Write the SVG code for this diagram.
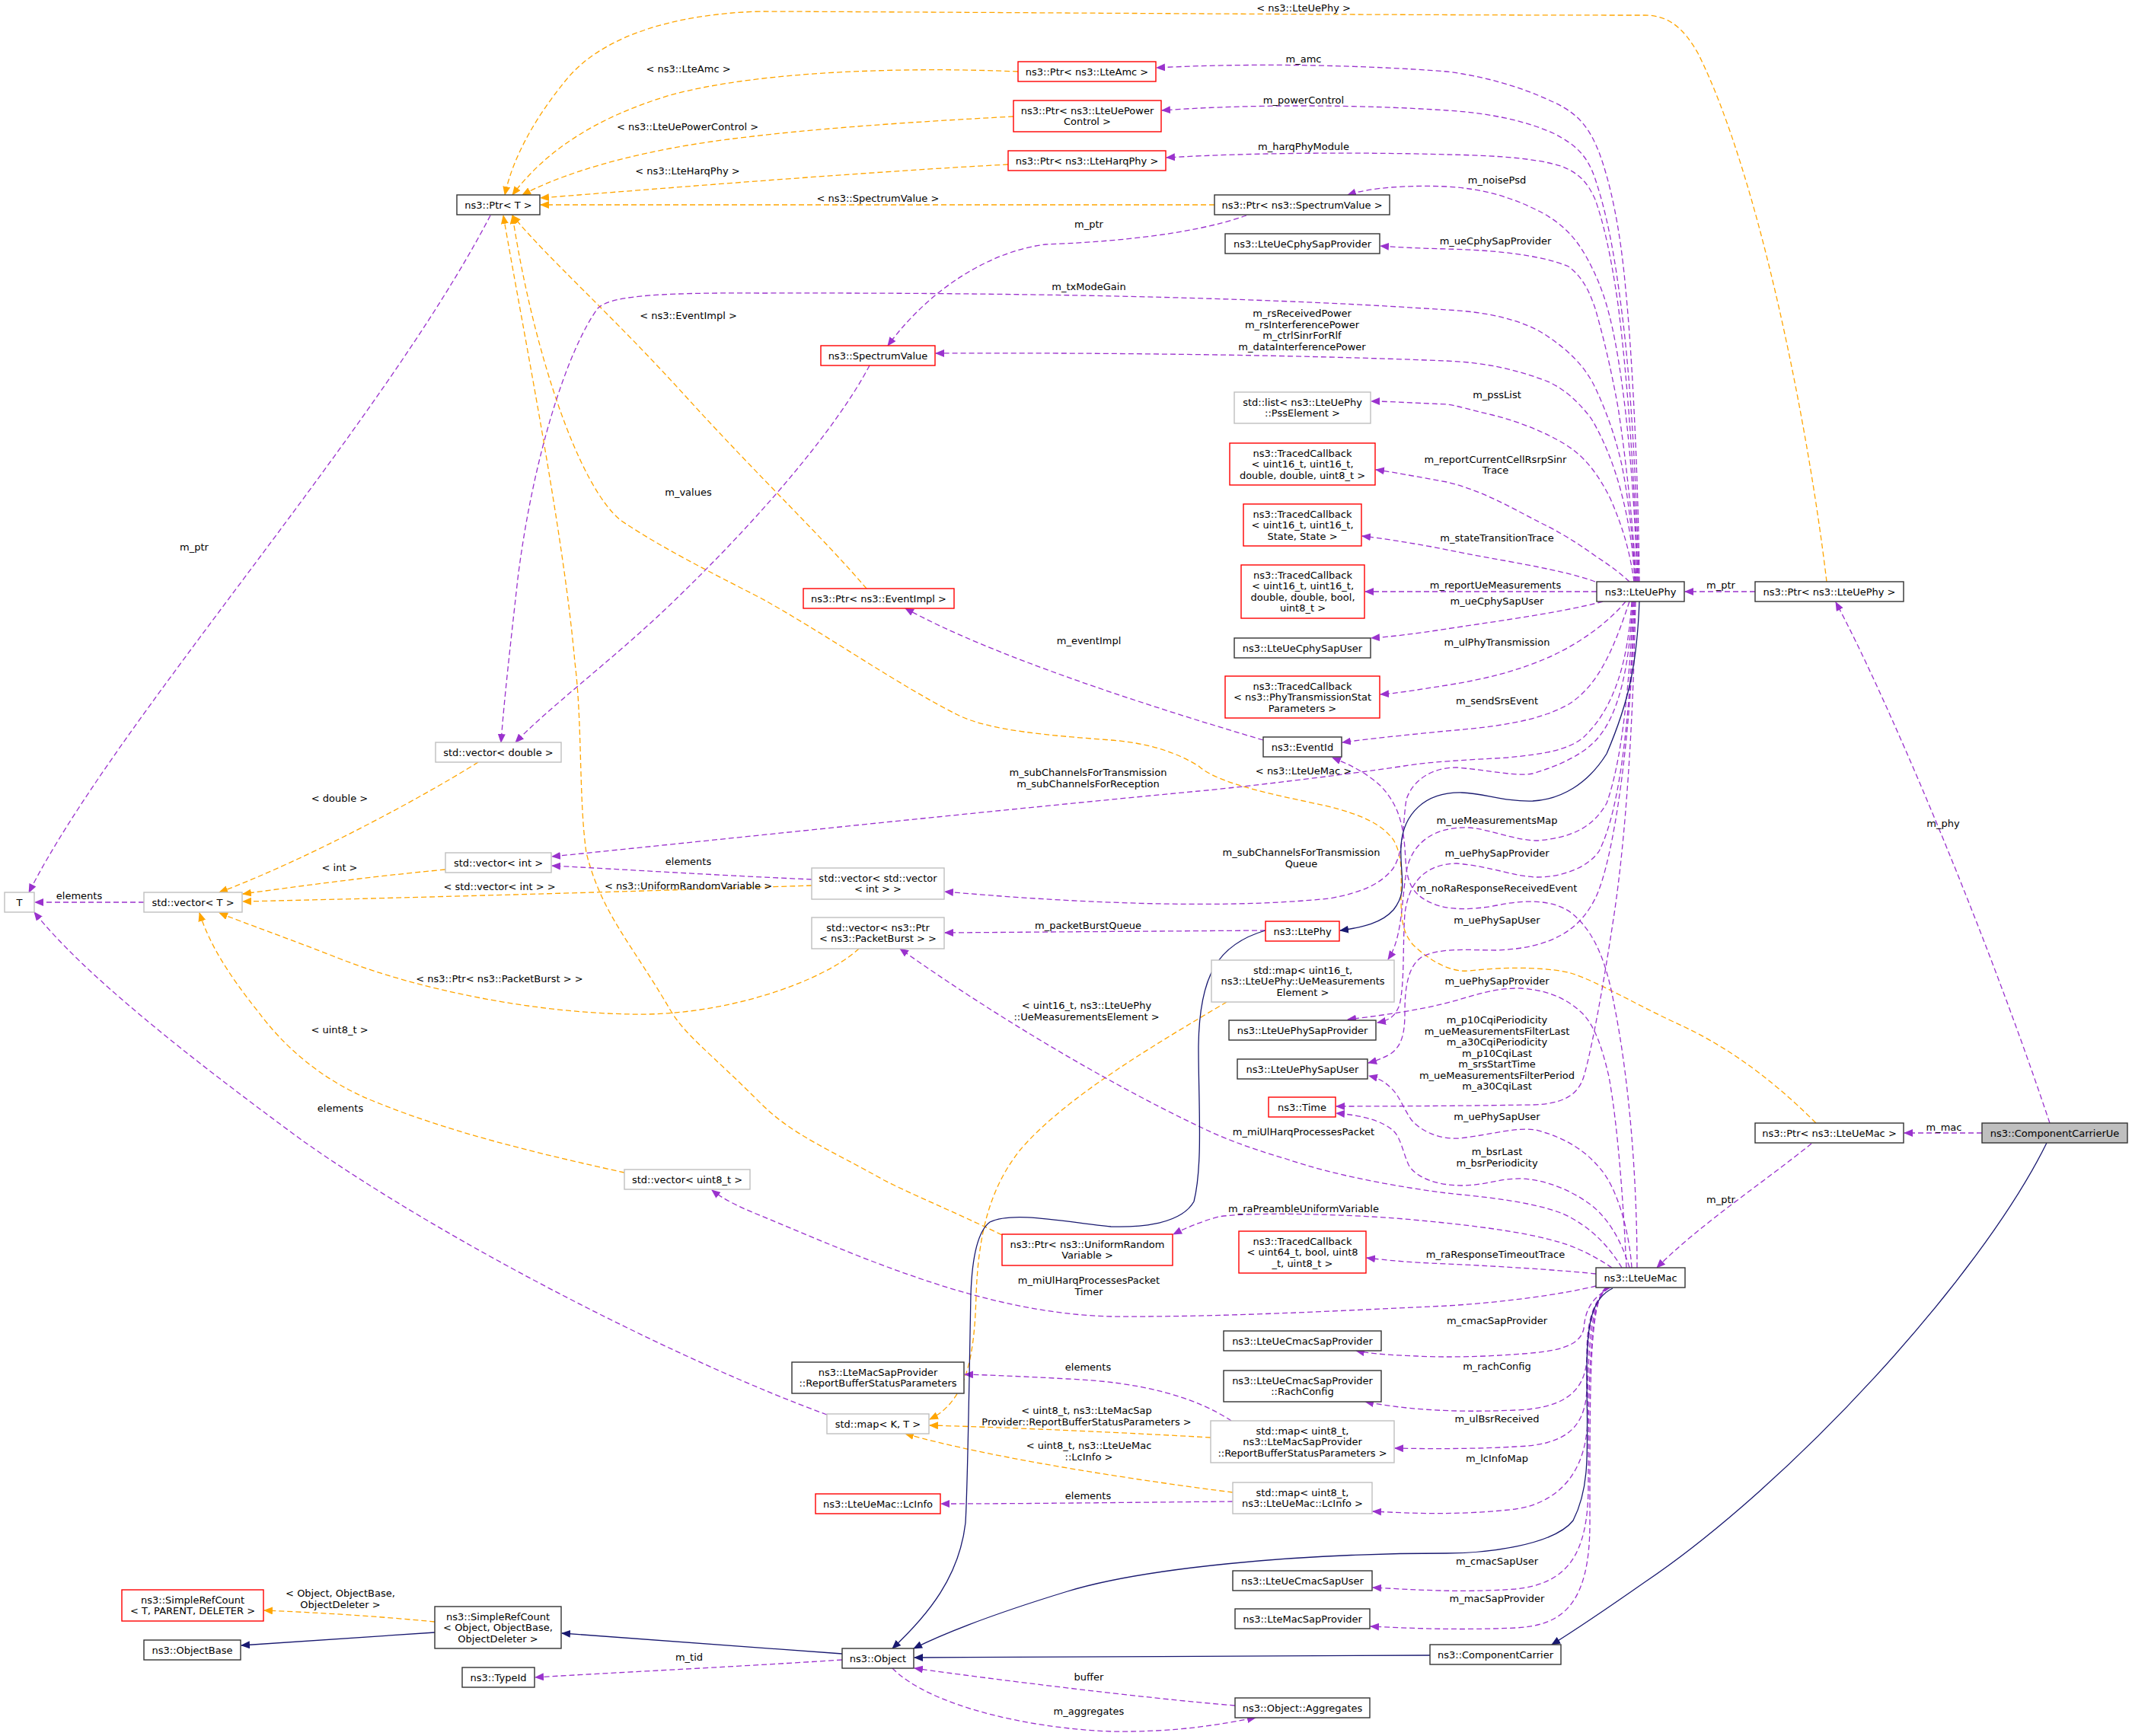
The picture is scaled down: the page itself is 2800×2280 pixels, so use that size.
<svg xmlns="http://www.w3.org/2000/svg" width="2800" height="2280" viewBox="0 0 2800 2280">
<style>
text{font-family:"DejaVu Sans","Liberation Sans",sans-serif;font-size:13px;fill:#000;text-anchor:middle}
.n rect{fill:#fff;stroke-width:1.4}
.k rect{stroke:#333}
.r rect{stroke:#f00}
.g rect{stroke:#bfbfbf}
.u{fill:none;stroke:#9a32cd;stroke-width:1.3;stroke-dasharray:7,4;marker-end:url(#mu)}
.t{fill:none;stroke:#ffa500;stroke-width:1.3;stroke-dasharray:7,4;marker-end:url(#mt)}
.i{fill:none;stroke:#191970;stroke-width:1.3;marker-end:url(#mi)}
</style>
<defs>
<marker id="mu" markerWidth="12" markerHeight="10" refX="11" refY="5" orient="auto" markerUnits="userSpaceOnUse"><path d="M0,0 L12,5 L0,10 z" fill="#9a32cd"/></marker>
<marker id="mt" markerWidth="12" markerHeight="10" refX="11" refY="5" orient="auto" markerUnits="userSpaceOnUse"><path d="M0,0 L12,5 L0,10 z" fill="#ffa500"/></marker>
<marker id="mi" markerWidth="12" markerHeight="10" refX="11" refY="5" orient="auto" markerUnits="userSpaceOnUse"><path d="M0,0 L12,5 L0,10 z" fill="#191970"/></marker>
</defs>
<rect width="2800" height="2280" fill="#fff"/>
<g id="connectors">
<path class="t" d="M2399,764 C2375,560 2310,230 2230,70 C2210,35 2190,20 2160,20 C1800,20 1300,16 1000,15 C880,18 790,50 746,102 C710,145 675,200 663,256"/>
<path class="t" d="M1337,94 C1200,88 1000,92 880,125 C780,155 715,200 673,256"/>
<path class="t" d="M1331,153 C1200,160 1000,172 880,195 C790,212 725,235 686,256"/>
<path class="t" d="M1324,216 C1150,225 900,245 710,260"/>
<path class="t" d="M1595,269 L710,269"/>
<path class="t" d="M1138,773 C1080,705 1000,630 900,520 C800,410 720,340 673,283"/>
<path class="t" d="M1316,1622 C1250,1590 1200,1570 1161,1550 C1090,1510 1040,1490 1000,1450 C930,1380 900,1360 880,1326 C830,1240 790,1200 770,1120 C760,1050 765,950 755,870 C740,700 690,450 661,283"/>
<path class="t" d="M2385,1475 C2320,1410 2260,1370 2200,1343 C2150,1320 2100,1290 2063,1278 C2040,1272 1990,1268 1930,1275 C1900,1278 1870,1255 1855,1240 C1843,1225 1840,1210 1840,1180 C1840,1150 1843,1125 1830,1103 C1815,1083 1790,1070 1740,1058 C1680,1045 1600,1030 1574,1006 C1540,985 1500,975 1459,972 C1380,966 1300,960 1258,939 C1180,900 1080,830 1000,786 C930,750 870,720 816,684 C760,640 700,460 673,283"/>
<path class="t" d="M628,1001 C550,1050 400,1130 288,1172"/>
<path class="t" d="M585,1142 C480,1152 400,1163 319,1174"/>
<path class="t" d="M1066,1163 C800,1172 500,1180 319,1184"/>
<path class="t" d="M1128,1246 C1080,1290 950,1335 829,1332 C700,1330 550,1300 446,1259 C380,1233 320,1212 288,1199"/>
<path class="t" d="M820,1540 C720,1518 600,1490 500,1450 C420,1420 370,1370 340,1330 C300,1280 275,1240 262,1199"/>
<path class="t" d="M1611,1316 C1520,1370 1400,1440 1340,1510 C1300,1560 1285,1620 1282,1700 C1280,1780 1270,1840 1221,1864"/>
<path class="t" d="M1590,1888 C1450,1880 1300,1874 1221,1872"/>
<path class="t" d="M1619,1960 C1500,1945 1300,1915 1189,1883"/>
<path class="t" d="M571,2130 C500,2123 420,2118 347,2115"/>
<path class="u" d="M2153,764 C2152,650 2145,480 2135,380 C2128,300 2115,240 2100,200 C2088,170 2075,150 2040,134 C2000,115 1950,100 1900,94 C1800,86 1650,82 1519,89"/>
<path class="u" d="M2152,764 C2150,650 2142,500 2130,410 C2120,330 2110,280 2095,235 C2085,205 2070,190 2040,175 C2000,157 1950,148 1900,145 C1800,138 1650,136 1526,145"/>
<path class="u" d="M2151,764 C2148,650 2138,500 2125,400 C2115,330 2105,290 2095,262 C2085,240 2075,228 2050,218 C2010,206 1950,204 1900,203 C1800,200 1650,200 1532,207"/>
<path class="u" d="M2150,764 C2148,680 2140,560 2125,470 C2115,410 2105,380 2090,350 C2075,320 2060,300 2030,282 C1990,260 1950,248 1900,245 C1850,243 1800,246 1770,256"/>
<path class="u" d="M2149,764 C2145,690 2135,600 2125,535 C2115,480 2105,440 2095,405 C2088,385 2080,365 2060,350 C2020,333 1950,328 1900,327 C1860,326 1840,325 1813,323"/>
<path class="u" d="M2148,764 C2145,710 2138,650 2130,611 C2122,575 2110,540 2093,505 C2080,480 2060,460 2030,440 C2000,420 1950,409 1900,407 C1700,393 1400,384 1000,385 C850,384 800,390 785,405 C745,460 700,600 680,760 C670,850 662,920 658,975"/>
<path class="u" d="M2147,764 C2145,720 2138,680 2130,650 C2120,610 2105,575 2090,550 C2075,530 2055,510 2030,500 C1990,485 1950,476 1900,474 C1700,466 1450,463 1229,464"/>
<path class="u" d="M2146,764 C2140,720 2130,690 2115,655 C2100,625 2085,605 2065,590 C2040,572 2000,555 1960,545 C1930,538 1915,533 1900,531 C1850,529 1820,527 1801,527"/>
<path class="u" d="M2140,764 C2125,750 2110,740 2095,730 C2070,712 2050,700 2030,690 C1990,670 1950,645 1900,633 C1860,626 1830,620 1807,617"/>
<path class="u" d="M2095,764 C2070,755 2040,748 1980,737 C1940,730 1910,724 1880,718 C1840,711 1815,707 1789,704"/>
<path class="u" d="M2097,777 L1793,777"/>
<path class="u" d="M2105,790 C2050,805 1950,818 1900,826 C1860,832 1830,836 1801,838"/>
<path class="u" d="M2135,790 C2110,820 2070,848 2030,865 C1990,882 1950,892 1900,900 C1860,906 1840,910 1813,912"/>
<path class="u" d="M2140,790 C2120,850 2100,900 2060,925 C2020,948 1960,955 1900,960 C1840,966 1800,970 1763,975"/>
<path class="u" d="M2143,790 C2138,870 2120,930 2080,968 C2060,985 2030,990 1980,995 C1930,998 1880,1000 1844,1006 C1750,1020 1600,1037 1574,1039 C1300,1065 1000,1097 725,1125"/>
<path class="u" d="M2144,790 C2140,880 2125,940 2097,971 C2080,990 2050,1005 2013,1016 C1990,1020 1960,1012 1913,1008 C1880,1008 1855,1025 1847,1050 C1842,1080 1845,1115 1830,1140 C1815,1160 1790,1172 1746,1180 C1600,1195 1400,1185 1241,1171"/>
<path class="u" d="M2145,790 C2140,900 2130,1000 2110,1055 C2090,1090 2060,1100 2020,1104 C1990,1104 1960,1090 1930,1087 C1880,1085 1855,1110 1848,1140 C1840,1180 1843,1230 1823,1260"/>
<path class="u" d="M2146,790 C2142,920 2130,1060 2100,1118 C2085,1140 2050,1152 2020,1152 C1990,1152 1960,1138 1913,1134 C1870,1135 1850,1160 1845,1200 C1842,1240 1845,1290 1838,1320 C1832,1335 1825,1340 1809,1343"/>
<path class="u" d="M2147,790 C2143,960 2120,1130 2095,1180 C2075,1220 2040,1245 1966,1248 C1930,1248 1890,1244 1867,1257 C1848,1270 1845,1300 1845,1330 C1845,1360 1840,1375 1825,1385 C1815,1390 1808,1393 1797,1396"/>
<path class="u" d="M2148,790 C2145,950 2135,1100 2120,1200 C2105,1300 2090,1380 2080,1414 C2072,1440 2050,1450 2013,1451 C1950,1452 1850,1453 1755,1453"/>
<path class="u" d="M2150,1665 C2150,1550 2140,1420 2120,1320 C2110,1265 2095,1225 2065,1200 C2040,1180 2000,1182 1966,1189 C1930,1196 1900,1195 1880,1186 C1855,1175 1848,1160 1846,1130 C1844,1090 1840,1060 1813,1032 C1795,1015 1770,1003 1750,995"/>
<path class="u" d="M2136,1665 C2132,1580 2125,1480 2113,1414 C2105,1380 2095,1345 2075,1328 C2055,1310 2030,1300 1997,1298 C1960,1297 1930,1310 1897,1318 C1860,1327 1820,1333 1770,1339"/>
<path class="u" d="M2143,1665 C2140,1620 2125,1560 2100,1533 C2085,1515 2060,1495 2017,1484 C1990,1480 1960,1490 1917,1495 C1890,1497 1865,1485 1853,1470 C1843,1455 1838,1440 1828,1430 C1818,1420 1810,1416 1798,1413"/>
<path class="u" d="M2140,1665 C2130,1630 2110,1595 2083,1578 C2060,1562 2030,1550 2000,1548 C1970,1547 1950,1557 1920,1557 C1890,1557 1860,1548 1850,1530 C1843,1515 1840,1495 1830,1485 C1815,1472 1790,1465 1755,1462"/>
<path class="u" d="M2130,1665 C2115,1640 2090,1610 2050,1593 C2010,1578 1950,1572 1900,1567 C1830,1558 1750,1543 1689,1522 C1640,1508 1600,1492 1574,1479 C1450,1420 1300,1330 1182,1246"/>
<path class="u" d="M2117,1665 C2095,1650 2070,1638 2050,1632 C2010,1620 1950,1610 1833,1600 C1750,1594 1640,1592 1600,1598 C1575,1605 1555,1614 1541,1621"/>
<path class="u" d="M2096,1673 C2050,1668 1950,1662 1900,1660 C1850,1658 1820,1655 1795,1652"/>
<path class="u" d="M2096,1689 C2050,1700 1980,1710 1900,1715 C1750,1722 1600,1730 1459,1729 C1300,1725 1150,1660 1000,1597 C970,1585 950,1575 935,1563"/>
<path class="u" d="M2115,1691 C2090,1705 2082,1720 2080,1745 C2075,1770 2040,1775 2000,1778 C1950,1782 1900,1783 1860,1781 C1830,1780 1800,1778 1781,1774"/>
<path class="u" d="M2113,1691 C2090,1710 2084,1740 2084,1780 C2084,1830 2050,1850 1990,1852 C1900,1856 1840,1850 1793,1841"/>
<path class="u" d="M2112,1691 C2088,1710 2084,1760 2084,1820 C2084,1880 2050,1898 1990,1900 C1940,1903 1880,1903 1832,1902"/>
<path class="u" d="M2111,1691 C2088,1710 2085,1780 2085,1860 C2085,1940 2040,1975 1990,1982 C1920,1990 1860,1988 1803,1985"/>
<path class="u" d="M2110,1691 C2088,1710 2086,1800 2086,1950 C2086,2040 2060,2080 1990,2087 C1920,2092 1860,2088 1803,2085"/>
<path class="u" d="M2109,1691 C2087,1710 2088,1820 2088,2000 C2088,2110 2050,2135 1990,2138 C1920,2141 1860,2139 1800,2136"/>
<path class="u" d="M1637,283 C1560,310 1450,318 1373,321 C1300,330 1220,380 1166,454"/>
<path class="u" d="M1142,480 C1100,560 1000,680 874,800 C800,870 720,930 677,975"/>
<path class="u" d="M644,283 C500,560 150,950 38,1172"/>
<path class="u" d="M189,1185 L46,1185"/>
<path class="u" d="M1086,1858 C900,1790 600,1640 400,1500 C250,1390 110,1280 45,1198"/>
<path class="u" d="M1066,1155 C950,1150 820,1142 725,1137"/>
<path class="u" d="M1659,972 C1500,925 1300,860 1189,799"/>
<path class="u" d="M1662,1222 L1241,1225"/>
<path class="u" d="M2692,1475 C2600,1200 2470,900 2411,791"/>
<path class="u" d="M2603,1488 L2501,1488"/>
<path class="u" d="M2305,777 L2213,777"/>
<path class="u" d="M2379,1502 C2320,1550 2230,1610 2176,1665"/>
<path class="u" d="M1106,2180 C950,2190 800,2197 703,2203"/>
<path class="u" d="M1622,2240 C1500,2230 1300,2205 1201,2191"/>
<path class="u" d="M1172,2191 C1220,2240 1350,2270 1459,2274 C1550,2275 1600,2265 1649,2256"/>
<path class="u" d="M1617,1866 C1570,1835 1500,1815 1402,1811 C1350,1808 1300,1806 1267,1805"/>
<path class="u" d="M1619,1972 C1500,1973 1350,1975 1236,1975"/>
<path class="i" d="M2153,790 C2150,870 2140,920 2110,990 C2085,1030 2050,1050 2013,1052 C1975,1053 1950,1042 1920,1041 C1870,1040 1843,1070 1840,1110 C1838,1150 1850,1170 1830,1195 C1815,1212 1790,1218 1760,1222"/>
<path class="i" d="M1662,1222 C1600,1240 1575,1280 1574,1374 C1574,1450 1580,1530 1568,1578 C1550,1610 1490,1612 1459,1611 C1400,1605 1330,1590 1300,1605 C1280,1620 1276,1670 1275,1700 C1273,1800 1271,1950 1268,2000 C1260,2070 1220,2120 1172,2165"/>
<path class="i" d="M2118,1692 C2090,1705 2084,1740 2084,1800 C2084,1900 2090,1950 2066,1997 C2040,2030 1950,2040 1900,2040 C1700,2040 1500,2060 1402,2090 C1330,2112 1250,2140 1200,2165"/>
<path class="i" d="M2688,1501 C2600,1680 2350,1950 2160,2078 C2100,2120 2070,2140 2038,2160"/>
<path class="i" d="M1878,2174 L1201,2177"/>
<path class="i" d="M1106,2172 L738,2145"/>
<path class="i" d="M571,2144 L317,2161"/>
<g id="edge-labels">
<text x="1712" y="15">&lt; ns3::LteUePhy &gt;</text>
<text x="1712" y="82">m_amc</text>
<text x="904" y="95">&lt; ns3::LteAmc &gt;</text>
<text x="1712" y="136">m_powerControl</text>
<text x="903" y="171">&lt; ns3::LteUePowerControl &gt;</text>
<text x="1712" y="197">m_harqPhyModule</text>
<text x="903" y="229">&lt; ns3::LteHarqPhy &gt;</text>
<text x="1966" y="241">m_noisePsd</text>
<text x="1153" y="265">&lt; ns3::SpectrumValue &gt;</text>
<text x="1430" y="299">m_ptr</text>
<text x="1964" y="321">m_ueCphySapProvider</text>
<text x="1430" y="381">m_txModeGain</text>
<text x="904" y="419">&lt; ns3::EventImpl &gt;</text>
<text x="1710" y="416">m_rsReceivedPower</text>
<text x="1710" y="430.5">m_rsInterferencePower</text>
<text x="1710" y="445">m_ctrlSinrForRlf</text>
<text x="1710" y="459.5">m_dataInterferencePower</text>
<text x="1966" y="523">m_pssList</text>
<text x="1964" y="608">m_reportCurrentCellRsrpSinr</text>
<text x="1964" y="622">Trace</text>
<text x="904" y="651">m_values</text>
<text x="1966" y="711">m_stateTransitionTrace</text>
<text x="255" y="723">m_ptr</text>
<text x="1964" y="773">m_reportUeMeasurements</text>
<text x="2260" y="773">m_ptr</text>
<text x="1966" y="794">m_ueCphySapUser</text>
<text x="1430" y="846">m_eventImpl</text>
<text x="1966" y="848">m_ulPhyTransmission</text>
<text x="1966" y="925">m_sendSrsEvent</text>
<text x="1712" y="1017">&lt; ns3::LteUeMac &gt;</text>
<text x="1429" y="1019">m_subChannelsForTransmission</text>
<text x="1429" y="1034">m_subChannelsForReception</text>
<text x="446" y="1053">&lt; double &gt;</text>
<text x="1966" y="1082">m_ueMeasurementsMap</text>
<text x="2552" y="1086">m_phy</text>
<text x="1709" y="1124">m_subChannelsForTransmission</text>
<text x="1709" y="1139">Queue</text>
<text x="1966" y="1125">m_uePhySapProvider</text>
<text x="904" y="1136">elements</text>
<text x="446" y="1144">&lt; int &gt;</text>
<text x="656" y="1169">&lt; std::vector&lt; int &gt; &gt;</text>
<text x="904" y="1168">&lt; ns3::UniformRandomVariable &gt;</text>
<text x="1966" y="1171">m_noRaResponseReceivedEvent</text>
<text x="104" y="1181">elements</text>
<text x="1966" y="1213">m_uePhySapUser</text>
<text x="1429" y="1220">m_packetBurstQueue</text>
<text x="656" y="1290">&lt; ns3::Ptr&lt; ns3::PacketBurst &gt; &gt;</text>
<text x="1966" y="1293">m_uePhySapProvider</text>
<text x="1427" y="1325">&lt; uint16_t, ns3::LteUePhy</text>
<text x="1427" y="1340">::UeMeasurementsElement &gt;</text>
<text x="1966" y="1344">m_p10CqiPeriodicity</text>
<text x="1966" y="1358.5">m_ueMeasurementsFilterLast</text>
<text x="1966" y="1373">m_a30CqiPeriodicity</text>
<text x="1966" y="1387.5">m_p10CqiLast</text>
<text x="1966" y="1402">m_srsStartTime</text>
<text x="1966" y="1416.5">m_ueMeasurementsFilterPeriod</text>
<text x="1966" y="1431">m_a30CqiLast</text>
<text x="446" y="1357">&lt; uint8_t &gt;</text>
<text x="447" y="1460">elements</text>
<text x="1966" y="1471">m_uePhySapUser</text>
<text x="2553" y="1485">m_mac</text>
<text x="1712" y="1491">m_miUlHarqProcessesPacket</text>
<text x="1966" y="1517">m_bsrLast</text>
<text x="1966" y="1531.5">m_bsrPeriodicity</text>
<text x="2260" y="1580">m_ptr</text>
<text x="1712" y="1592">m_raPreambleUniformVariable</text>
<text x="1964" y="1652">m_raResponseTimeoutTrace</text>
<text x="1430" y="1686">m_miUlHarqProcessesPacket</text>
<text x="1430" y="1700.5">Timer</text>
<text x="1966" y="1739">m_cmacSapProvider</text>
<text x="1966" y="1799">m_rachConfig</text>
<text x="1429" y="1800">elements</text>
<text x="1427" y="1857">&lt; uint8_t, ns3::LteMacSap</text>
<text x="1427" y="1871.5">Provider::ReportBufferStatusParameters &gt;</text>
<text x="1966" y="1868">m_ulBsrReceived</text>
<text x="1430" y="1903">&lt; uint8_t, ns3::LteUeMac</text>
<text x="1430" y="1917.5">::LcInfo &gt;</text>
<text x="1966" y="1920">m_lcInfoMap</text>
<text x="1429" y="1969">elements</text>
<text x="1966" y="2055">m_cmacSapUser</text>
<text x="447" y="2097">&lt; Object, ObjectBase,</text>
<text x="447" y="2111.5">ObjectDeleter &gt;</text>
<text x="1966" y="2104">m_macSapProvider</text>
<text x="905" y="2181">m_tid</text>
<text x="1430" y="2207">buffer</text>
<text x="1430" y="2252">m_aggregates</text>
</g>
</g>
<g id="node-ptrT" class="n k"><rect x="600" y="256" width="109" height="26"/><text x="654.5" y="273.5">ns3::Ptr&lt; T &gt;</text></g>
<g id="node-ptrAmc" class="n r"><rect x="1337" y="81" width="181" height="26"/><text x="1427.5" y="98.5">ns3::Ptr&lt; ns3::LteAmc &gt;</text></g>
<g id="node-ptrPowerControl" class="n r"><rect x="1331" y="132" width="194" height="41"/><text x="1428" y="149.75">ns3::Ptr&lt; ns3::LteUePower</text><text x="1428" y="164.25">Control &gt;</text></g>
<g id="node-ptrHarqPhy" class="n r"><rect x="1324" y="198" width="207" height="26"/><text x="1427.5" y="215.5">ns3::Ptr&lt; ns3::LteHarqPhy &gt;</text></g>
<g id="node-ptrSpectrumValue" class="n k"><rect x="1595" y="256" width="230" height="26"/><text x="1710" y="273.5">ns3::Ptr&lt; ns3::SpectrumValue &gt;</text></g>
<g id="node-cphySapProvider" class="n k"><rect x="1609" y="307" width="203" height="26"/><text x="1710.5" y="324.5">ns3::LteUeCphySapProvider</text></g>
<g id="node-spectrumValue" class="n r"><rect x="1078" y="454" width="150" height="26"/><text x="1153" y="471.5">ns3::SpectrumValue</text></g>
<g id="node-pssList" class="n g"><rect x="1621" y="515" width="179" height="41"/><text x="1710.5" y="532.75">std::list&lt; ns3::LteUePhy</text><text x="1710.5" y="547.25">::PssElement &gt;</text></g>
<g id="node-tc1" class="n r"><rect x="1615" y="582" width="191" height="55"/><text x="1710.5" y="599.5">ns3::TracedCallback</text><text x="1710.5" y="614">&lt; uint16_t, uint16_t,</text><text x="1710.5" y="628.5">double, double, uint8_t &gt;</text></g>
<g id="node-tc2" class="n r"><rect x="1633" y="662" width="155" height="55"/><text x="1710.5" y="679.5">ns3::TracedCallback</text><text x="1710.5" y="694">&lt; uint16_t, uint16_t,</text><text x="1710.5" y="708.5">State, State &gt;</text></g>
<g id="node-tc3" class="n r"><rect x="1630" y="742" width="162" height="70"/><text x="1711" y="759.75">ns3::TracedCallback</text><text x="1711" y="774.25">&lt; uint16_t, uint16_t,</text><text x="1711" y="788.75">double, double, bool,</text><text x="1711" y="803.25">uint8_t &gt;</text></g>
<g id="node-ptrEventImpl" class="n r"><rect x="1055" y="773" width="198" height="26"/><text x="1154" y="790.5">ns3::Ptr&lt; ns3::EventImpl &gt;</text></g>
<g id="node-cphySapUser" class="n k"><rect x="1621" y="838" width="179" height="26"/><text x="1710.5" y="855.5">ns3::LteUeCphySapUser</text></g>
<g id="node-tc4" class="n r"><rect x="1609" y="888" width="203" height="55"/><text x="1710.5" y="905.5">ns3::TracedCallback</text><text x="1710.5" y="920">&lt; ns3::PhyTransmissionStat</text><text x="1710.5" y="934.5">Parameters &gt;</text></g>
<g id="node-eventId" class="n k"><rect x="1659" y="968" width="103" height="26"/><text x="1710.5" y="985.5">ns3::EventId</text></g>
<g id="node-vecvec" class="n g"><rect x="1066" y="1140" width="174" height="41"/><text x="1153" y="1157.75">std::vector&lt; std::vector</text><text x="1153" y="1172.25">&lt; int &gt; &gt;</text></g>
<g id="node-vecPB" class="n g"><rect x="1066" y="1205" width="174" height="41"/><text x="1153" y="1222.75">std::vector&lt; ns3::Ptr</text><text x="1153" y="1237.25">&lt; ns3::PacketBurst &gt; &gt;</text></g>
<g id="node-ltePhy" class="n r"><rect x="1662" y="1210" width="97" height="26"/><text x="1710.5" y="1227.5">ns3::LtePhy</text></g>
<g id="node-mapUeMeas" class="n g"><rect x="1591" y="1261" width="240" height="55"/><text x="1711" y="1278.5">std::map&lt; uint16_t,</text><text x="1711" y="1293">ns3::LteUePhy::UeMeasurements</text><text x="1711" y="1307.5">Element &gt;</text></g>
<g id="node-phySapProvider" class="n k"><rect x="1614" y="1340" width="193" height="26"/><text x="1710.5" y="1357.5">ns3::LteUePhySapProvider</text></g>
<g id="node-phySapUser" class="n k"><rect x="1625" y="1391" width="171" height="26"/><text x="1710.5" y="1408.5">ns3::LteUePhySapUser</text></g>
<g id="node-time" class="n r"><rect x="1666" y="1441" width="88" height="26"/><text x="1710" y="1458.5">ns3::Time</text></g>
<g id="node-lteUePhy" class="n k"><rect x="2097" y="764" width="115" height="26"/><text x="2154.5" y="781.5">ns3::LteUePhy</text></g>
<g id="node-ptrUePhy" class="n k"><rect x="2305" y="764" width="195" height="26"/><text x="2402.5" y="781.5">ns3::Ptr&lt; ns3::LteUePhy &gt;</text></g>
<g id="node-ptrUeMac" class="n k"><rect x="2305" y="1475" width="195" height="26"/><text x="2402.5" y="1492.5">ns3::Ptr&lt; ns3::LteUeMac &gt;</text></g>
<g id="node-componentCarrierUe" class="n k"><rect x="2603" y="1475" width="191" height="26" style="fill:#bfbfbf"/><text x="2698.5" y="1492.5">ns3::ComponentCarrierUe</text></g>
<g id="node-T" class="n g"><rect x="6" y="1172" width="39" height="26"/><text x="25.5" y="1189.5">T</text></g>
<g id="node-vecT" class="n g"><rect x="189" y="1172" width="129" height="26"/><text x="253.5" y="1189.5">std::vector&lt; T &gt;</text></g>
<g id="node-vecDouble" class="n g"><rect x="572" y="975" width="165" height="26"/><text x="654.5" y="992.5">std::vector&lt; double &gt;</text></g>
<g id="node-vecInt" class="n g"><rect x="585" y="1120" width="139" height="26"/><text x="654.5" y="1137.5">std::vector&lt; int &gt;</text></g>
<g id="node-vecU8" class="n g"><rect x="820" y="1536" width="165" height="26"/><text x="902.5" y="1553.5">std::vector&lt; uint8_t &gt;</text></g>
<g id="node-ptrURV" class="n r"><rect x="1316" y="1621" width="224" height="41"/><text x="1428" y="1638.75">ns3::Ptr&lt; ns3::UniformRandom</text><text x="1428" y="1653.25">Variable &gt;</text></g>
<g id="node-tc5" class="n r"><rect x="1627" y="1617" width="167" height="55"/><text x="1710.5" y="1634.5">ns3::TracedCallback</text><text x="1710.5" y="1649">&lt; uint64_t, bool, uint8</text><text x="1710.5" y="1663.5">_t, uint8_t &gt;</text></g>
<g id="node-cmacSapProvider" class="n k"><rect x="1607" y="1748" width="207" height="26"/><text x="1710.5" y="1765.5">ns3::LteUeCmacSapProvider</text></g>
<g id="node-rachConfig" class="n k"><rect x="1607" y="1800" width="207" height="41"/><text x="1710.5" y="1817.75">ns3::LteUeCmacSapProvider</text><text x="1710.5" y="1832.25">::RachConfig</text></g>
<g id="node-rbsp" class="n k"><rect x="1040" y="1789" width="226" height="41"/><text x="1153" y="1806.75">ns3::LteMacSapProvider</text><text x="1153" y="1821.25">::ReportBufferStatusParameters</text></g>
<g id="node-mapKT" class="n g"><rect x="1086" y="1857" width="134" height="26"/><text x="1153" y="1874.5">std::map&lt; K, T &gt;</text></g>
<g id="node-mapRBSP" class="n g"><rect x="1590" y="1866" width="241" height="55"/><text x="1710.5" y="1883.5">std::map&lt; uint8_t,</text><text x="1710.5" y="1898">ns3::LteMacSapProvider</text><text x="1710.5" y="1912.5">::ReportBufferStatusParameters &gt;</text></g>
<g id="node-lcInfo" class="n r"><rect x="1071" y="1962" width="164" height="26"/><text x="1153" y="1979.5">ns3::LteUeMac::LcInfo</text></g>
<g id="node-mapLc" class="n g"><rect x="1619" y="1947" width="183" height="41"/><text x="1710.5" y="1964.75">std::map&lt; uint8_t,</text><text x="1710.5" y="1979.25">ns3::LteUeMac::LcInfo &gt;</text></g>
<g id="node-cmacSapUser" class="n k"><rect x="1619" y="2063" width="183" height="26"/><text x="1710.5" y="2080.5">ns3::LteUeCmacSapUser</text></g>
<g id="node-macSapProvider" class="n k"><rect x="1622" y="2113" width="177" height="26"/><text x="1710.5" y="2130.5">ns3::LteMacSapProvider</text></g>
<g id="node-object" class="n k"><rect x="1106" y="2165" width="94" height="26"/><text x="1153" y="2182.5">ns3::Object</text></g>
<g id="node-aggregates" class="n k"><rect x="1622" y="2230" width="177" height="26"/><text x="1710.5" y="2247.5">ns3::Object::Aggregates</text></g>
<g id="node-componentCarrier" class="n k"><rect x="1878" y="2160" width="172" height="26"/><text x="1964" y="2177.5">ns3::ComponentCarrier</text></g>
<g id="node-lteUeMac" class="n k"><rect x="2096" y="1665" width="117" height="26"/><text x="2154.5" y="1682.5">ns3::LteUeMac</text></g>
<g id="node-srcT" class="n r"><rect x="160" y="2088" width="186" height="41"/><text x="253" y="2105.75">ns3::SimpleRefCount</text><text x="253" y="2120.25">&lt; T, PARENT, DELETER &gt;</text></g>
<g id="node-objectBase" class="n k"><rect x="189" y="2154" width="127" height="26"/><text x="252.5" y="2171.5">ns3::ObjectBase</text></g>
<g id="node-srcObject" class="n k"><rect x="571" y="2110" width="166" height="55"/><text x="654" y="2127.5">ns3::SimpleRefCount</text><text x="654" y="2142">&lt; Object, ObjectBase,</text><text x="654" y="2156.5">ObjectDeleter &gt;</text></g>
<g id="node-typeId" class="n k"><rect x="607" y="2190" width="95" height="26"/><text x="654.5" y="2207.5">ns3::TypeId</text></g>
</svg>
